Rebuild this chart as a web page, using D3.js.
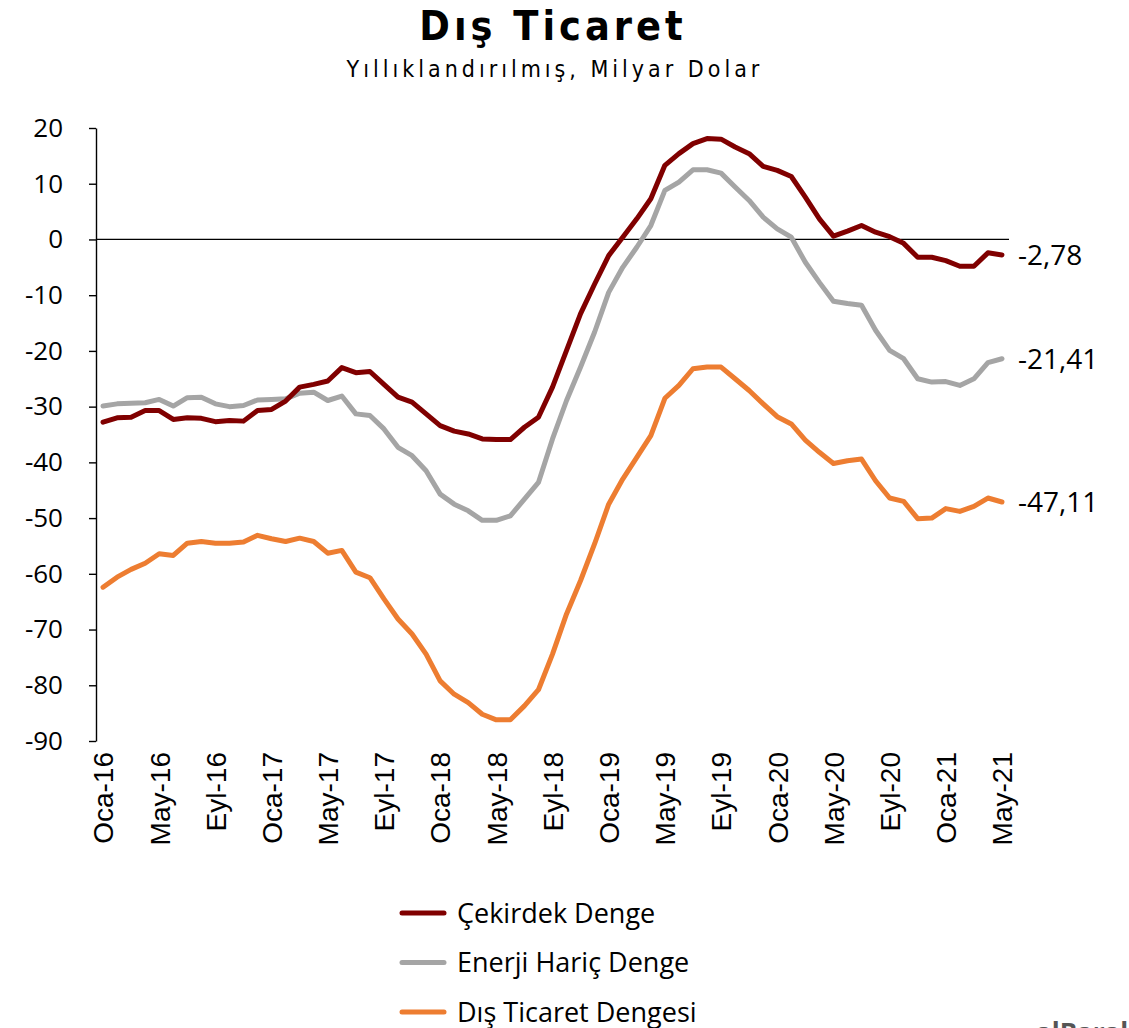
<!DOCTYPE html>
<html>
<head>
<meta charset="utf-8">
<script src="https://cdn.jsdelivr.net/npm/d3@7"></script>
<style>
  body { margin: 0; background: #fff; }
  svg { display: block; }
</style>
</head>
<body>
<div id="chart"></div>
<script>
// series, Jan 2016 .. May 2021 (monthly, annualised, bn USD)
var cekirdek = [-32.8,-32.0,-31.9,-30.7,-30.7,-32.3,-32.0,-32.1,-32.7,-32.5,
  -32.6,-30.7,-30.5,-29.0,-26.5,-26.0,-25.4,-23.0,-23.9,-23.7,
  -26.0,-28.3,-29.2,-31.3,-33.4,-34.4,-34.9,-35.8,-35.9,-35.9,
  -33.7,-31.9,-26.5,-19.9,-13.3,-8.0,-2.9,0.4,3.7,7.3,
  13.3,15.4,17.2,18.1,18.0,16.6,15.4,13.1,12.4,11.3,
  7.6,3.7,0.6,1.5,2.5,1.3,0.5,-0.7,-3.2,-3.2,
  -3.8,-4.8,-4.8,-2.4,-2.78];
var enerjiHaric = [-29.9,-29.5,-29.4,-29.3,-28.7,-29.9,-28.4,-28.3,-29.5,-30.0,
  -29.8,-28.8,-28.7,-28.6,-27.6,-27.4,-28.9,-28.1,-31.3,-31.6,
  -34.0,-37.3,-38.8,-41.5,-45.7,-47.5,-48.7,-50.4,-50.4,-49.6,
  -46.6,-43.6,-35.8,-28.9,-22.9,-16.6,-9.5,-5.0,-1.4,2.5,
  8.8,10.3,12.5,12.5,11.9,9.4,7.0,4.0,1.9,0.4,
  -4.1,-7.7,-11.1,-11.5,-11.8,-16.3,-19.9,-21.4,-25.0,-25.6,
  -25.5,-26.2,-25.0,-22.1,-21.41];
var disTicaret = [-62.4,-60.6,-59.2,-58.1,-56.4,-56.7,-54.5,-54.2,-54.5,-54.5,
  -54.3,-53.1,-53.7,-54.2,-53.6,-54.2,-56.3,-55.8,-59.7,-60.7,
  -64.5,-68.1,-70.8,-74.4,-79.2,-81.6,-83.1,-85.2,-86.2,-86.2,
  -83.7,-80.8,-74.4,-67.2,-61.2,-54.6,-47.5,-43.0,-39.1,-35.2,
  -28.5,-26.2,-23.2,-22.9,-22.9,-25.0,-27.1,-29.5,-31.8,-33.1,
  -36.0,-38.2,-40.2,-39.7,-39.4,-43.3,-46.4,-47.0,-50.1,-50.0,
  -48.3,-48.8,-47.9,-46.4,-47.11];

var xTickLabels = ["Oca-16","May-16","Eyl-16","Oca-17","May-17","Eyl-17","Oca-18","May-18",
  "Eyl-18","Oca-19","May-19","Eyl-19","Oca-20","May-20","Eyl-20","Oca-21","May-21"];
var yTicks = [20,10,0,-10,-20,-30,-40,-50,-60,-70,-80,-90];
var endLabels = ["-2,78","-21,41","-47,11"];
var seriesNames = ["Çekirdek Denge","Enerji Hariç Denge","Dış Ticaret Dengesi"];
var seriesColors = ["#800000","#a5a5a5","#ed7d31"];

var W = 1129, H = 1028;
var svg = d3.select("#chart").append("svg").attr("width", W).attr("height", H);
svg.append("rect").attr("width", W).attr("height", H).attr("fill", "#fff");

var n = cekirdek.length;
var x = d3.scaleLinear().domain([-0.5, n - 0.5]).range([96, 1009]);
var y = d3.scaleLinear().domain([-90, 20]).range([741, 128]);

// titles
svg.append("text")
  .attr("x", 553).attr("y", 40)
  .attr("text-anchor", "middle")
  .style("font-family", "'DejaVu Sans Condensed','DejaVu Sans',sans-serif")
  .style("font-stretch", "condensed")
  .style("font-weight", "bold")
  .style("font-size", "41px")
  .style("letter-spacing", "4px")
  .text("Dış Ticaret");

svg.append("text")
  .attr("x", 555).attr("y", 77)
  .attr("text-anchor", "middle")
  .style("font-family", "'DejaVu Sans Condensed','DejaVu Sans',sans-serif")
  .style("font-stretch", "condensed")
  .style("font-size", "23px")
  .style("letter-spacing", "4px")
  .text("Yıllıklandırılmış, Milyar Dolar");

// y axis
var yAxis = svg.append("g")
  .attr("transform", "translate(96,0)")
  .call(d3.axisLeft(y).tickValues(yTicks).tickSize(7).tickSizeOuter(0).tickPadding(26)
    .tickFormat(function(d){ return d; }));
yAxis.select(".domain").attr("stroke", "#000").attr("stroke-width", 1.4);
yAxis.selectAll(".tick line").attr("stroke", "#000").attr("stroke-width", 1.4);
yAxis.selectAll(".tick text")
  .style("font-family", "'Open Sans',sans-serif")
  .style("font-size", "26px")
  .attr("fill", "#000");

// zero line
svg.append("line")
  .attr("x1", 96).attr("x2", 1009)
  .attr("y1", y(0)).attr("y2", y(0))
  .attr("stroke", "#000").attr("stroke-width", 1.2);

// x axis labels (low position)
var tickIdx = xTickLabels.map(function(d, i){ return i * 4; });
var xAxis = svg.append("g")
  .attr("transform", "translate(0,741)")
  .call(d3.axisBottom(x).tickValues(tickIdx).tickSize(0)
    .tickFormat(function(d, i){ return xTickLabels[i]; }));
xAxis.select(".domain").remove();
xAxis.selectAll(".tick text")
  .attr("transform", "rotate(-90)")
  .attr("x", -11).attr("y", 0).attr("dy", "0.35em")
  .attr("text-anchor", "end")
  .style("font-family", "'Liberation Sans',Arial,sans-serif")
  .style("font-size", "28px")
  .attr("fill", "#000");

// lines
var allSeries = [cekirdek, enerjiHaric, disTicaret];
var line = d3.line()
  .x(function(d, i){ return x(i); })
  .y(function(d){ return y(d); });

[2, 1, 0].forEach(function(k){
  svg.append("path")
    .datum(allSeries[k])
    .attr("d", line)
    .attr("fill", "none")
    .attr("stroke", seriesColors[k])
    .attr("stroke-width", 5)
    .attr("stroke-linejoin", "round")
    .attr("stroke-linecap", "round");
});

// end labels
allSeries.forEach(function(s, k){
  svg.append("text")
    .attr("x", 1018)
    .attr("y", y(s[s.length - 1]))
    .attr("dy", "0.36em")
    .style("font-family", "'Open Sans',sans-serif")
    .style("font-size", "28px")
    .attr("fill", "#000")
    .text(endLabels[k]);
});

// legend
var legend = svg.append("g").selectAll("g")
  .data(seriesNames).enter().append("g")
  .attr("transform", function(d, i){ return "translate(402," + (913 + i * 49.5) + ")"; });
legend.append("line")
  .attr("x1", 0).attr("x2", 42)
  .attr("stroke", function(d, i){ return seriesColors[i]; })
  .attr("stroke-width", 5)
  .attr("stroke-linecap", "round");
legend.append("text")
  .attr("x", 55).attr("dy", "0.36em")
  .style("font-family", "'Open Sans',sans-serif")
  .style("font-size", "27px")
  .attr("fill", "#000")
  .text(function(d){ return d; });

// logo remnant at the bottom right corner
svg.append("text")
  .attr("x", 1036).attr("y", 1042)
  .style("font-family", "'Open Sans',sans-serif")
  .style("font-weight", "bold")
  .style("font-size", "26px")
  .attr("fill", "#555")
  .text("alBaraka");
</script>
</body>
</html>
